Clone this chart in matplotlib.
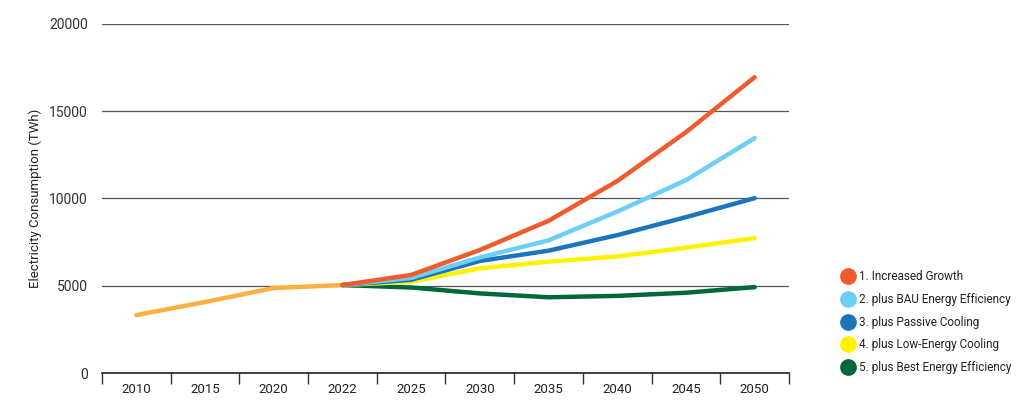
import matplotlib
matplotlib.use("Agg")
import matplotlib.pyplot as plt
from matplotlib.lines import Line2D
import numpy as np

plt.rcParams['font.family'] = ['Roboto', 'DejaVu Sans']

years = ["2010", "2015", "2020", "2022", "2025", "2030", "2035", "2040", "2045", "2050"]

# historical values 2010-2022
history = [3320, 4070, 4870, 5040]

# scenarios 2022-2050
scen_labels = [
    "1. Increased Growth",
    "2. plus BAU Energy Efficiency",
    "3. plus Passive Cooling",
    "4. plus Low-Energy Cooling",
    "5. plus Best Energy Efficiency",
]
growth = [5040, 5620, 7050, 8720, 11000, 13800, 16950]
bau_eff = [5040, 5450, 6620, 7600, 9250, 11050, 13460]
passive = [5040, 5340, 6420, 7010, 7900, 8930, 10020]
low_energy = [5040, 5230, 6000, 6380, 6680, 7180, 7730]
best_eff = [5040, 4900, 4560, 4340, 4420, 4600, 4920]

colors = ["#F15A2B", "#6DCFF6", "#1C75BC", "#FFF200", "#006838"]
hist_color = "#FBB040"


def main():
    fig = plt.figure(figsize=(10.24, 4.15), dpi=100)
    ax = fig.add_axes([0.0996, 0.1012, 0.6709, 0.8410])

    x = np.arange(len(years))
    ax.plot(x[:4], history, color=hist_color, lw=3.2, solid_capstyle='round', zorder=3)

    series = [growth, bau_eff, passive, low_energy, best_eff]
    for vals, c in reversed(list(zip(series, colors))):
        ax.plot(x[3:], vals, color=c, lw=3.2, solid_capstyle='round', zorder=3)

    ax.set_xlim(-0.5, len(years) - 0.5)
    ax.set_ylim(0, 20000)
    ax.set_yticks([0, 5000, 10000, 15000, 20000])
    ax.set_yticklabels(["0", "5000", "10000", "15000", "20000"])
    ax.grid(axis='y', color='#555555', lw=0.9, zorder=1)

    # category boundaries as ticks, labels in the middle
    ax.set_xticks(np.arange(len(years) + 1) - 0.5)
    ax.set_xticklabels([])
    ax.set_xticks(x, minor=True)
    ax.set_xticklabels(years, minor=True, fontsize=9.5, color='#222222')
    ax.tick_params(axis='x', which='major', direction='out', length=8, width=1, color='#333333')
    ax.tick_params(axis='x', which='minor', length=0, pad=7)
    ax.tick_params(axis='y', length=0, pad=10, labelsize=10, labelcolor='#333333')

    for s in ['top', 'right', 'left']:
        ax.spines[s].set_visible(False)
    ax.spines['bottom'].set_color('#222222')
    ax.spines['bottom'].set_linewidth(1.2)

    ax.set_ylabel("Electricity Consumption (TWh)", fontsize=9.5, color='#222222', labelpad=5)

    handles = [Line2D([], [], ls='none', marker='o', markersize=11, color=c) for c in colors]
    fig.legend(handles, scen_labels, loc='upper left', bbox_to_anchor=(0.811, 0.374),
               frameon=False, fontsize=8.5, handletextpad=0.3, labelspacing=0.82,
               handlelength=1.2, labelcolor='#222222')

    fig.savefig("out.png", dpi=100)


if __name__ == "__main__":
    main()
